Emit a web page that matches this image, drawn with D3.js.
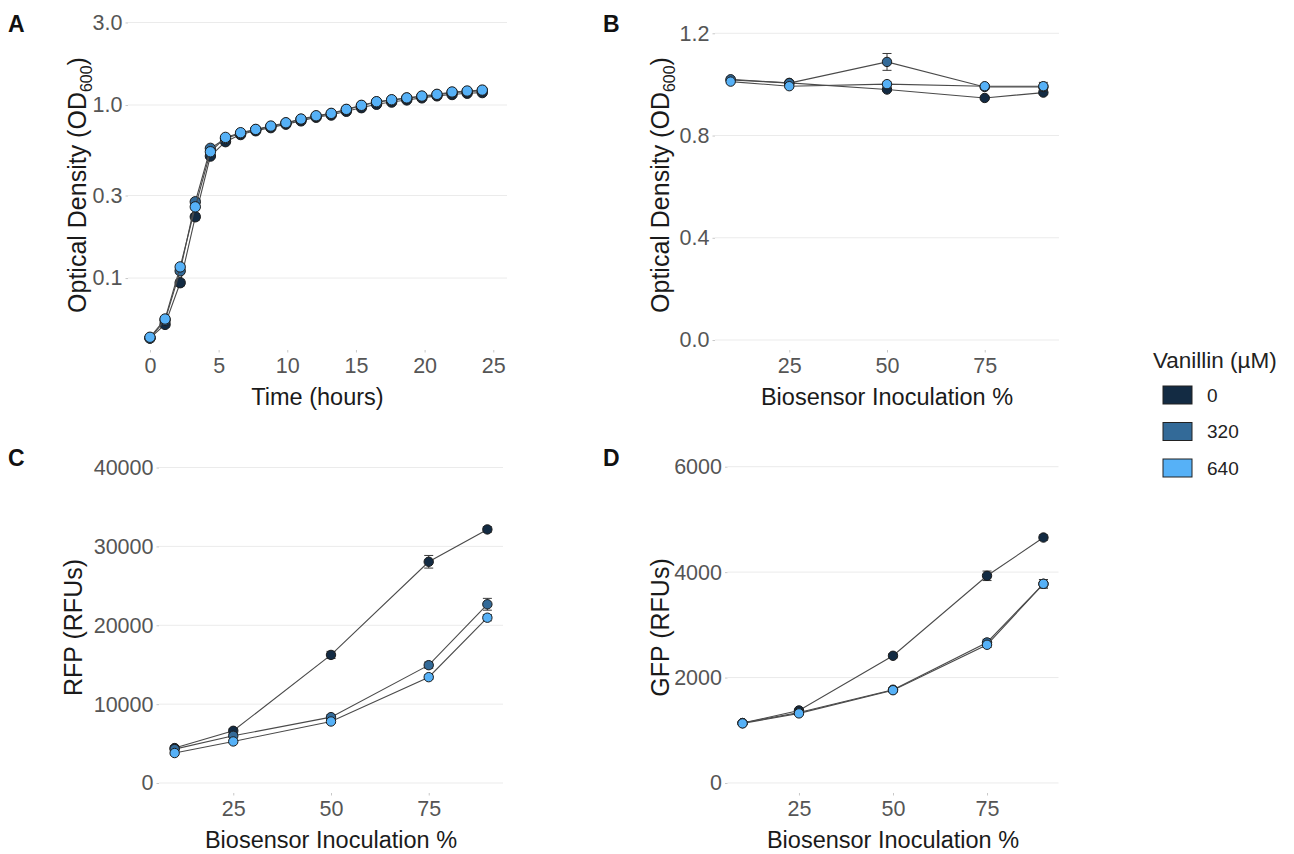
<!DOCTYPE html>
<html>
  <head>
    <title>Vanillin biosensor</title>
    <script src="https://d3js.org/d3.v7.min.js"></script>
    <style>
      body { margin: 0; background: #fff; }
      text { font-family: "Liberation Sans", Arial, Helvetica, sans-serif; }
      .grid line { stroke: #ebebeb; stroke-width: 1px; }
      .axis .domain { display: none; }
      .axis .tick line { stroke: #c8c8c8; stroke-width: 1px; }
      .axis .tick text { font-size: 21.5px; fill: #555; }
      .axis__title { fill: #1a1a1a; text-anchor: middle; }
      .panel__tag { font-size: 23px; font-weight: bold; fill: #111; }
      .legend text { fill: #222; }
    </style>
  </head>
  <body>
    <svg width="1294" height="854"></svg>
    <script>
      // vanillin groups
      const vanillin = ["0", "320", "640"];
      const fills = ["#132B43", "#336A98", "#56B1F7"];

      // A: growth curve, OD600 over time
      const times = [0, 1.1, 2.2, 3.3, 4.4, 5.5, 6.6, 7.7, 8.8, 9.9, 11, 12.1,
        13.2, 14.3, 15.4, 16.5, 17.6, 18.7, 19.8, 20.9, 22, 23.1, 24.2];
      const growth0 = [0.045, 0.054, 0.094, 0.226, 0.507, 0.614, 0.675, 0.71, 0.74, 0.775, 0.81, 0.85,
        0.875, 0.92, 0.965, 1.01, 1.04, 1.07, 1.1, 1.13, 1.15, 1.17, 1.18];
      const growth320 = [0.045, 0.057, 0.11, 0.276, 0.562, 0.64, 0.685, 0.72, 0.75, 0.785, 0.825, 0.86,
        0.89, 0.94, 0.99, 1.04, 1.065, 1.095, 1.12, 1.145, 1.18, 1.195, 1.21];
      const growth640 = [0.0455, 0.058, 0.116, 0.258, 0.537, 0.65, 0.692, 0.723, 0.756, 0.79, 0.83, 0.867,
        0.895, 0.944, 0.996, 1.045, 1.073, 1.1, 1.127, 1.153, 1.19, 1.205, 1.22];
      const growthErr = [0.001, 0.002, 0.004, 0.01, 0.015, 0.01, 0.01, 0.01, 0.01, 0.01, 0.01, 0.01,
        0.01, 0.01, 0.01, 0.01, 0.01, 0.01, 0.01, 0.01, 0.01, 0.01, 0.01];

      // B-D: inoculation series
      const inoc = [10, 25, 50, 75, 90];
      const od0 = [1.017, 1.006, 0.98, 0.947, 0.968];
      const od320 = [1.02, 1.005, 1.088, 0.99, 0.99];
      const od640 = [1.011, 0.993, 1.001, 0.993, 0.993];
      const odErr0 = [0.01, 0.006, 0.006, 0.006, 0.008];
      const odErr320 = [0.008, 0.006, 0.033, 0.008, 0.01];
      const odErr640 = [0.006, 0.005, 0.008, 0.006, 0.015];

      const rfp0 = [4430, 6620, 16240, 28050, 32150];
      const rfp320 = [4300, 5990, 8350, 14940, 22660];
      const rfp640 = [3800, 5270, 7800, 13420, 20960];
      const rfpErr0 = [300, 300, 450, 800, 350];
      const rfpErr320 = [250, 250, 300, 400, 750];
      const rfpErr640 = [200, 200, 250, 300, 400];

      const gfp0 = [1137, 1376, 2413, 3930, 4656];
      const gfp320 = [1137, 1338, 1769, 2666, 3778];
      const gfp640 = [1130, 1320, 1760, 2622, 3778];
      const gfpErr0 = [20, 25, 40, 90, 50];
      const gfpErr320 = [20, 25, 30, 60, 80];
      const gfpErr640 = [20, 25, 30, 50, 80];

      const svg = d3.select("svg");

      function series(xs, ys, errs) {
        return ys.map((v, i) => ({
          group: vanillin[i],
          fill: fills[i],
          pts: xs.map((x, j) => ({ x: x, y: v[j], e: errs[i][j] }))
        }));
      }

      function drawPanel(cfg) {
        const g = svg.append("g");
        const x = cfg.x, y = cfg.y;
        const [x0, x1] = x.range();
        const [yb, yt] = y.range();

        g.append("g").attr("class", "grid")
          .selectAll("line").data(cfg.yTicks).join("line")
            .attr("x1", x0).attr("x2", x1)
            .attr("y1", d => y(d)).attr("y2", d => y(d));

        g.append("g").attr("class", "axis")
          .attr("transform", `translate(${x0},0)`)
          .call(d3.axisLeft(y).tickValues(cfg.yTicks).tickFormat(cfg.yFormat)
            .tickSize(2.5).tickPadding(3));

        g.append("g").attr("class", "axis")
          .attr("transform", `translate(0,${yb})`)
          .call(d3.axisBottom(x).tickValues(cfg.xTicks).tickFormat(d3.format("d"))
            .tickSize(2.5).tickPadding(5));

        g.append("text").attr("class", "axis__title")
          .attr("font-size", "23.5px")
          .attr("x", (x0 + x1) / 2).attr("y", yb + 55)
          .text(cfg.xTitle);

        const yTitle = g.append("text").attr("class", "axis__title")
          .attr("font-size", "25px")
          .attr("transform", `translate(${cfg.yTitleX},${(yb + yt) / 2}) rotate(-90)`)
          .attr("dy", "0.35em");
        yTitle.append("tspan").text(cfg.yTitle[0]);
        if (cfg.yTitle.length > 1) {
          yTitle.append("tspan").attr("font-size", "16px").attr("dy", 6).text(cfg.yTitle[1]);
          yTitle.append("tspan").attr("dy", -6).text(cfg.yTitle[2]);
        }

        g.append("text").attr("class", "panel__tag")
          .attr("x", cfg.tag[1]).attr("y", cfg.tag[2]).text(cfg.tag[0]);

        const line = d3.line().x(d => x(d.x)).y(d => y(d.y));
        const groups = g.selectAll(".series").data(cfg.data).join("g").attr("class", "series");

        groups.append("path")
          .attr("d", d => line(d.pts))
          .attr("fill", "none").attr("stroke", "#4a4a4a").attr("stroke-width", 1.1);

        groups.each(function(s) {
          const sg = d3.select(this);
          const eb = sg.selectAll(".err").data(s.pts).join("g").attr("class", "err")
            .attr("stroke", "#3a3a3a").attr("stroke-width", 1);
          eb.append("line")
            .attr("x1", d => x(d.x)).attr("x2", d => x(d.x))
            .attr("y1", d => y(d.y - d.e)).attr("y2", d => y(d.y + d.e));
          eb.append("line")
            .attr("x1", d => x(d.x) - 4.5).attr("x2", d => x(d.x) + 4.5)
            .attr("y1", d => y(d.y - d.e)).attr("y2", d => y(d.y - d.e));
          eb.append("line")
            .attr("x1", d => x(d.x) - 4.5).attr("x2", d => x(d.x) + 4.5)
            .attr("y1", d => y(d.y + d.e)).attr("y2", d => y(d.y + d.e));
        });

        groups.each(function(s) {
          d3.select(this).selectAll("circle").data(s.pts).join("circle")
            .attr("cx", d => x(d.x)).attr("cy", d => y(d.y))
            .attr("r", cfg.r)
            .attr("fill", s.fill)
            .attr("stroke", "#1c1c1c").attr("stroke-width", 1);
        });
      }

      // A
      drawPanel({
        x: d3.scaleLinear().domain([-1.6, 26]).range([128, 507]),
        y: d3.scaleLog().domain([0.0384, 3.1]).range([350, 20]),
        xTicks: [0, 5, 10, 15, 20, 25],
        yTicks: [0.1, 0.3, 1, 3],
        yFormat: d3.format(".1f"),
        xTitle: "Time (hours)",
        yTitle: ["Optical Density (OD", "600", ")"],
        yTitleX: 77,
        tag: ["A", 8, 32],
        r: 5.2,
        data: series(times, [growth0, growth320, growth640], [growthErr, growthErr, growthErr])
      });

      // B
      drawPanel({
        x: d3.scaleLinear().domain([6, 94]).range([715, 1059]),
        y: d3.scaleLinear().domain([-0.039, 1.252]).range([350, 20]),
        xTicks: [25, 50, 75],
        yTicks: [0, 0.4, 0.8, 1.2],
        yFormat: d3.format(".1f"),
        xTitle: "Biosensor Inoculation %",
        yTitle: ["Optical Density (OD", "600", ")"],
        yTitleX: 660,
        tag: ["B", 603, 32],
        r: 4.7,
        data: series(inoc, [od0, od320, od640], [odErr0, odErr320, odErr640])
      });

      // C
      drawPanel({
        x: d3.scaleLinear().domain([6, 94]).range([159, 503]),
        y: d3.scaleLinear().domain([-1266, 40700]).range([793, 462]),
        xTicks: [25, 50, 75],
        yTicks: [0, 10000, 20000, 30000, 40000],
        yFormat: d3.format("d"),
        xTitle: "Biosensor Inoculation %",
        yTitle: ["RFP (RFUs)"],
        yTitleX: 73,
        tag: ["C", 8, 466],
        r: 4.7,
        data: series(inoc, [rfp0, rfp320, rfp640], [rfpErr0, rfpErr320, rfpErr640])
      });

      // D
      drawPanel({
        x: d3.scaleLinear().domain([6, 94]).range([727.5, 1058.5]),
        y: d3.scaleLinear().domain([-190, 6089]).range([793, 462]),
        xTicks: [25, 50, 75],
        yTicks: [0, 2000, 4000, 6000],
        yFormat: d3.format("d"),
        xTitle: "Biosensor Inoculation %",
        yTitle: ["GFP (RFUs)"],
        yTitleX: 660,
        tag: ["D", 603, 466],
        r: 4.7,
        data: series(inoc, [gfp0, gfp320, gfp640], [gfpErr0, gfpErr320, gfpErr640])
      });

      // legend
      const legend = svg.append("g").attr("class", "legend").attr("transform", "translate(1153,0)");
      legend.append("text").attr("x", 0).attr("y", 368).attr("font-size", "22.5px").text("Vanillin (\u00b5M)");
      const keys = legend.selectAll(".key").data(vanillin).join("g").attr("class", "key")
        .attr("transform", (d, i) => `translate(10,${386 + i * 36.5})`);
      keys.append("rect").attr("width", 29).attr("height", 18)
        .attr("fill", (d, i) => fills[i]).attr("stroke", "#222").attr("stroke-width", 1);
      keys.append("text").attr("x", 44).attr("y", 9).attr("dy", "0.35em")
        .attr("font-size", "19px").text(d => d);
    </script>
  </body>
</html>
